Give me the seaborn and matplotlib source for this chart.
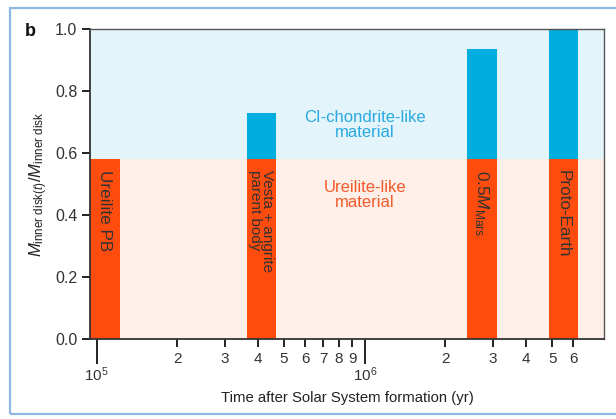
import numpy as np
import matplotlib
matplotlib.use("Agg")
import matplotlib.pyplot as plt
from matplotlib.patches import Rectangle
from matplotlib.ticker import FixedLocator, FixedFormatter
import seaborn as sns

# Dati
bodies = ["Ureilite PB", "Vesta + angrite\nparent body", r"0.5$M_{\mathrm{Mars}}$", "Proto-Earth"]
t_left = [0.945e5, 3.63e5, 2.40e6, 4.86e6]
t_right = [1.22e5, 4.65e5, 3.11e6, 6.24e6]
mass_total = [0.58, 0.73, 0.935, 1.0]
ureilite_frac = 0.58

major_ticks = [1e5, 1e6]
major_labels = [r"$10^5$", r"$10^6$"]
minor_ticks = [2e5, 3e5, 4e5, 5e5, 6e5, 7e5, 8e5, 9e5, 2e6, 3e6, 4e6, 5e6, 6e6]
minor_labels = ["2", "3", "4", "5", "6", "7", "8", "9", "2", "3", "4", "5", "6"]

ORANGE = "#FD4C0E"
BLUE = "#00ADDE"
BG_BLUE = "#E3F4FB"
BG_ORANGE = "#FEEFE8"

sns.set_style("ticks")
plt.rcParams["font.family"] = ["Liberation Sans", "DejaVu Sans"]
plt.rcParams["mathtext.fontset"] = "custom"
plt.rcParams["mathtext.rm"] = "Liberation Sans"
plt.rcParams["mathtext.it"] = "Liberation Sans:italic"
plt.rcParams["mathtext.bf"] = "Liberation Sans:bold"

fig = plt.figure(figsize=(6.16, 4.19), dpi=100, facecolor="white")
ax = fig.add_axes([90 / 616, 1 - 339 / 419, (604 - 90) / 616, (339 - 29) / 419])

# cornice azzurra della figura
fig.patches.append(Rectangle((10 / 616, 1 - 414 / 419), 1.2, (414 - 8) / 419,
                             transform=fig.transFigure, fill=False,
                             edgecolor="#8DB9E0", lw=1.6, zorder=0))

ax.set_xscale("log")
ax.set_xlim(0.945e5, 7.8e6)
ax.set_ylim(0, 1.0)

# sfondo: materiale ureilitico sotto, CI-condritico sopra
ax.axhspan(0, ureilite_frac, color=BG_ORANGE, lw=0, zorder=0)
ax.axhspan(ureilite_frac, 1.0, color=BG_BLUE, lw=0, zorder=0)

widths = np.array(t_right) - np.array(t_left)
upper = np.array(mass_total) - ureilite_frac
ax.bar(t_left, [ureilite_frac] * len(t_left), width=widths, align="edge",
       color=ORANGE, lw=0, zorder=2)
ax.bar(t_left, upper, width=widths, bottom=ureilite_frac, align="edge",
       color=BLUE, lw=0, zorder=2)

for l, r, name in zip(t_left, t_right, bodies):
    xc = np.sqrt(l * r)
    fs = 11 if "\n" in name else 12.3
    ax.text(xc, 0.545, name, rotation=-90, ha="center", va="top",
            multialignment="left", fontsize=fs, color="#333333",
            linespacing=0.85, zorder=3)

ax.text(1e6, 0.69, "CI-chondrite-like\nmaterial", ha="center", va="center",
        color="#29A9E0", fontsize=12, linespacing=1.0)
ax.text(1e6, 0.465, "Ureilite-like\nmaterial", ha="center", va="center",
        color="#F25A29", fontsize=12, linespacing=1.0)

ax.xaxis.set_major_locator(FixedLocator(major_ticks))
ax.xaxis.set_major_formatter(FixedFormatter(major_labels))
ax.xaxis.set_minor_locator(FixedLocator(minor_ticks))
ax.xaxis.set_minor_formatter(FixedFormatter(minor_labels))
ax.tick_params(axis="x", which="major", length=18, width=1.4, pad=1,
               labelsize=11, color="#222222", labelcolor="#333333")
ax.tick_params(axis="x", which="minor", length=6, width=1.4, pad=3,
               labelsize=11, color="#222222", labelcolor="#333333")
ax.set_yticks([0.0, 0.2, 0.4, 0.6, 0.8, 1.0])
ax.set_yticklabels(["0.0", "0.2", "0.4", "0.6", "0.8", "1.0"])
ax.tick_params(axis="y", length=6, width=1.4, pad=3, labelsize=11.5,
               color="#222222", labelcolor="#333333")

for side in ["left", "bottom"]:
    ax.spines[side].set_color("#333333")
    ax.spines[side].set_linewidth(1.3)
for side in ["top", "right"]:
    ax.spines[side].set_color("#555555")
    ax.spines[side].set_linewidth(1.0)

ax.set_xlabel("Time after Solar System formation (yr)", fontsize=10.7,
              color="#222222", labelpad=5)
ax.set_ylabel(r"$M_{\mathrm{inner\ disk}(t)}/M_{\mathrm{inner\ disk}}$",
              fontsize=12, color="#222222", labelpad=4)

fig.text(30 / 616, 1 - 31 / 419, "b", fontsize=13, fontweight="bold",
         ha="center", va="center", color="#111111")

fig.savefig("out.png", dpi=100)
